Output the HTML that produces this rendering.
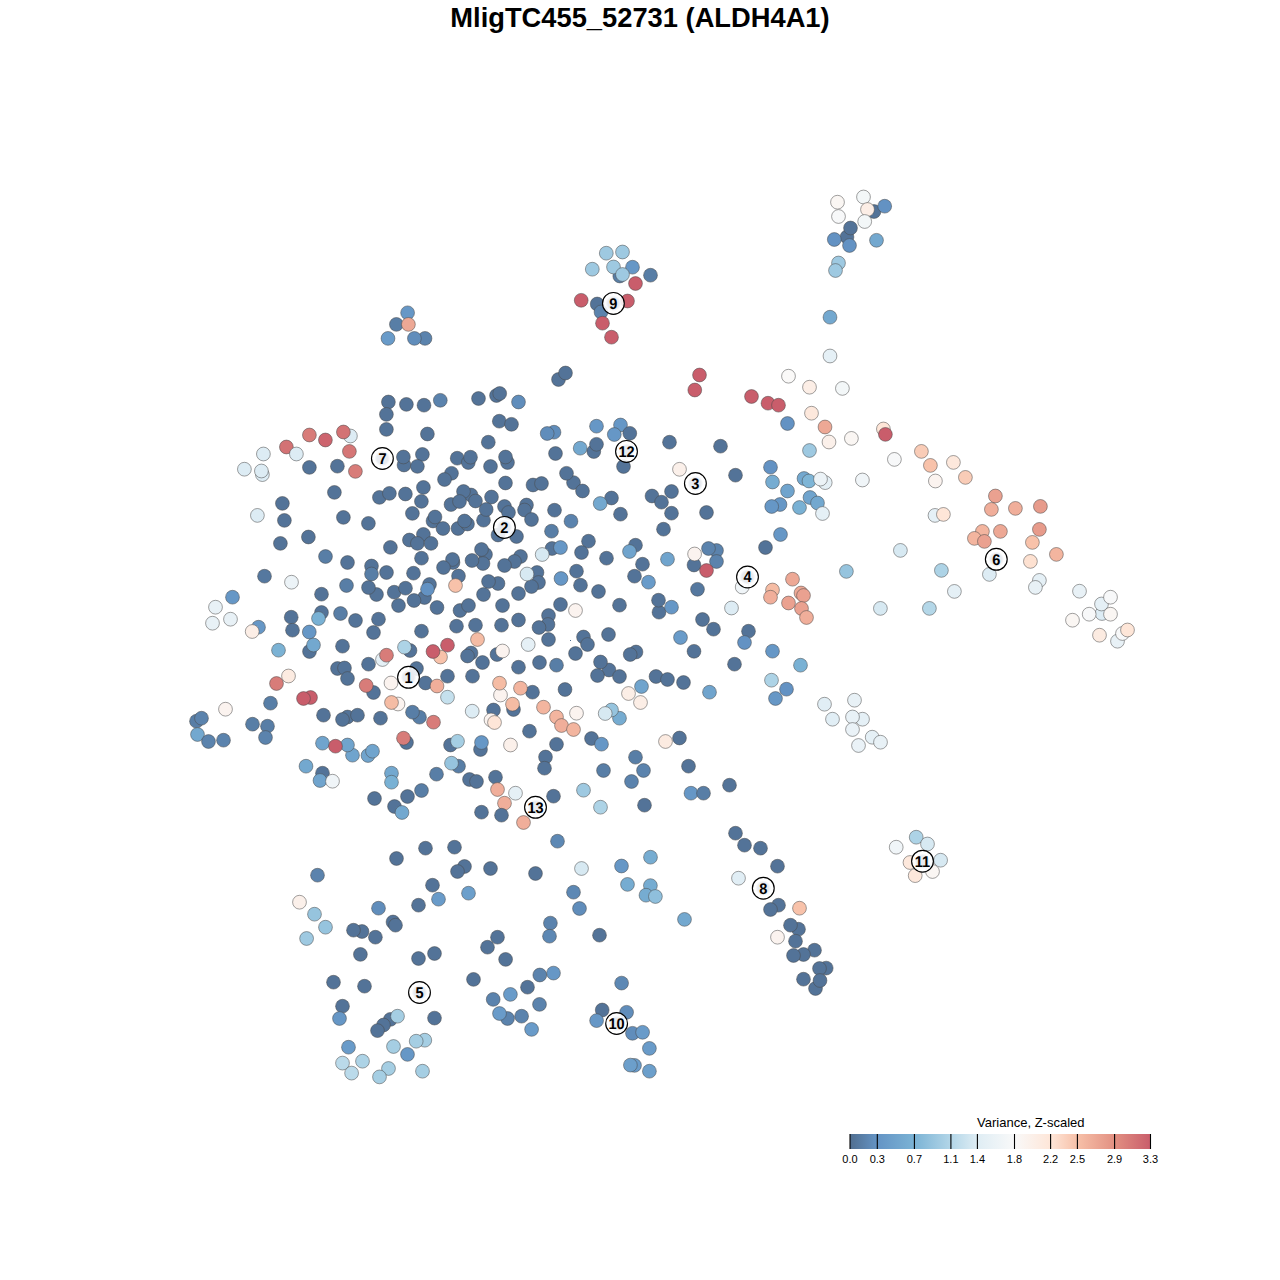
<!DOCTYPE html><html><head><meta charset="utf-8"><style>html,body{margin:0;padding:0;background:#fff}svg{display:block}text{font-family:"Liberation Sans",Arial,sans-serif}</style></head><body>
<svg width="1280" height="1280" viewBox="0 0 1280 1280">
<rect width="1280" height="1280" fill="#fff"/>
<text x="640" y="26.5" text-anchor="middle" font-size="27.3" font-weight="bold" fill="#000">MligTC455_52731 (ALDH4A1)</text>
<g stroke="#4a4a4a" stroke-opacity="0.65" stroke-width="0.8">
<circle cx="407.6" cy="312.8" r="6.9" fill="#6697c6"/>
<circle cx="396.4" cy="324.4" r="6.9" fill="#587ea6"/>
<circle cx="408.4" cy="324.4" r="6.9" fill="#eda895"/>
<circle cx="388.0" cy="338.4" r="6.9" fill="#699bc9"/>
<circle cx="425.0" cy="338.4" r="6.9" fill="#5b83ad"/>
<circle cx="414.4" cy="338.4" r="6.9" fill="#608dbb"/>
<circle cx="388.4" cy="402.0" r="6.9" fill="#537398"/>
<circle cx="406.4" cy="404.4" r="6.9" fill="#537398"/>
<circle cx="424.0" cy="405.2" r="6.9" fill="#537398"/>
<circle cx="386.4" cy="414.4" r="6.9" fill="#537398"/>
<circle cx="386.4" cy="429.4" r="6.9" fill="#537398"/>
<circle cx="427.4" cy="434.0" r="6.9" fill="#537398"/>
<circle cx="309.4" cy="435.0" r="6.9" fill="#d87c79"/>
<circle cx="350.4" cy="436.0" r="6.9" fill="#ddecf4"/>
<circle cx="325.4" cy="440.0" r="6.9" fill="#cd646e"/>
<circle cx="343.4" cy="432.0" r="6.9" fill="#d37274"/>
<circle cx="286.4" cy="447.0" r="6.9" fill="#d37274"/>
<circle cx="263.4" cy="454.0" r="6.9" fill="#ddecf4"/>
<circle cx="296.4" cy="454.0" r="6.9" fill="#ddecf4"/>
<circle cx="349.4" cy="451.4" r="6.9" fill="#d57676"/>
<circle cx="244.4" cy="469.2" r="6.9" fill="#ddecf4"/>
<circle cx="262.4" cy="474.6" r="6.9" fill="#ddecf4"/>
<circle cx="261.4" cy="471.0" r="6.9" fill="#ddecf4"/>
<circle cx="309.4" cy="467.4" r="6.9" fill="#537398"/>
<circle cx="337.4" cy="466.2" r="6.9" fill="#537398"/>
<circle cx="355.4" cy="471.4" r="6.9" fill="#d87c79"/>
<circle cx="404.0" cy="465.0" r="6.9" fill="#537398"/>
<circle cx="403.4" cy="457.0" r="6.9" fill="#537398"/>
<circle cx="422.4" cy="454.4" r="6.9" fill="#537398"/>
<circle cx="417.4" cy="466.4" r="6.9" fill="#537398"/>
<circle cx="334.4" cy="492.4" r="6.9" fill="#537398"/>
<circle cx="379.4" cy="497.4" r="6.9" fill="#537398"/>
<circle cx="389.4" cy="493.4" r="6.9" fill="#537398"/>
<circle cx="405.4" cy="494.0" r="6.9" fill="#537398"/>
<circle cx="423.4" cy="487.4" r="6.9" fill="#537398"/>
<circle cx="421.4" cy="501.4" r="6.9" fill="#537398"/>
<circle cx="282.4" cy="503.4" r="6.9" fill="#537398"/>
<circle cx="257.4" cy="515.4" r="6.9" fill="#ddecf4"/>
<circle cx="284.4" cy="520.4" r="6.9" fill="#537398"/>
<circle cx="343.4" cy="517.4" r="6.9" fill="#537398"/>
<circle cx="368.4" cy="523.4" r="6.9" fill="#537398"/>
<circle cx="412.4" cy="513.4" r="6.9" fill="#537398"/>
<circle cx="433.0" cy="521.0" r="6.9" fill="#537398"/>
<circle cx="435.0" cy="517.0" r="6.9" fill="#537398"/>
<circle cx="308.4" cy="537.0" r="6.9" fill="#537398"/>
<circle cx="280.4" cy="543.4" r="6.9" fill="#537398"/>
<circle cx="409.4" cy="540.0" r="6.9" fill="#537398"/>
<circle cx="423.4" cy="534.4" r="6.9" fill="#537398"/>
<circle cx="417.4" cy="543.4" r="6.9" fill="#537398"/>
<circle cx="431.0" cy="543.4" r="6.9" fill="#537398"/>
<circle cx="390.4" cy="547.4" r="6.9" fill="#537398"/>
<circle cx="558.5" cy="379.5" r="6.9" fill="#537398"/>
<circle cx="565.5" cy="373.0" r="6.9" fill="#537398"/>
<circle cx="440.3" cy="400.3" r="6.9" fill="#5b83ad"/>
<circle cx="478.5" cy="398.5" r="6.9" fill="#537398"/>
<circle cx="496.5" cy="395.5" r="6.9" fill="#537398"/>
<circle cx="499.7" cy="393.5" r="6.9" fill="#537398"/>
<circle cx="518.5" cy="402.0" r="6.9" fill="#608dbb"/>
<circle cx="499.3" cy="421.2" r="6.9" fill="#537398"/>
<circle cx="511.5" cy="424.3" r="6.9" fill="#537398"/>
<circle cx="554.0" cy="432.2" r="6.9" fill="#608dbb"/>
<circle cx="547.2" cy="433.5" r="6.9" fill="#608dbb"/>
<circle cx="488.3" cy="442.2" r="6.9" fill="#537398"/>
<circle cx="555.5" cy="453.5" r="6.9" fill="#537398"/>
<circle cx="457.2" cy="458.2" r="6.9" fill="#537398"/>
<circle cx="468.3" cy="462.5" r="6.9" fill="#537398"/>
<circle cx="470.5" cy="457.2" r="6.9" fill="#537398"/>
<circle cx="507.5" cy="462.5" r="6.9" fill="#537398"/>
<circle cx="505.5" cy="457.0" r="6.9" fill="#537398"/>
<circle cx="490.5" cy="466.5" r="6.9" fill="#537398"/>
<circle cx="451.5" cy="473.3" r="6.9" fill="#537398"/>
<circle cx="444.5" cy="479.5" r="6.9" fill="#537398"/>
<circle cx="505.5" cy="483.0" r="6.9" fill="#537398"/>
<circle cx="533.0" cy="485.0" r="6.9" fill="#537398"/>
<circle cx="541.5" cy="483.5" r="6.9" fill="#537398"/>
<circle cx="694.8" cy="390.0" r="6.9" fill="#c95d6b"/>
<circle cx="596.5" cy="426.2" r="6.9" fill="#6697c6"/>
<circle cx="620.5" cy="425.0" r="6.9" fill="#6697c6"/>
<circle cx="614.3" cy="434.5" r="6.9" fill="#6697c6"/>
<circle cx="629.8" cy="433.3" r="6.9" fill="#537398"/>
<circle cx="580.2" cy="448.2" r="6.9" fill="#73a8cf"/>
<circle cx="593.8" cy="451.5" r="6.9" fill="#537398"/>
<circle cx="596.5" cy="444.3" r="6.9" fill="#537398"/>
<circle cx="669.5" cy="442.2" r="6.9" fill="#537398"/>
<circle cx="623.5" cy="466.5" r="6.9" fill="#537398"/>
<circle cx="679.5" cy="469.3" r="6.9" fill="#fbf0ea"/>
<circle cx="573.5" cy="482.6" r="6.9" fill="#537398"/>
<circle cx="566.5" cy="473.3" r="6.9" fill="#537398"/>
<circle cx="699.5" cy="375.0" r="6.9" fill="#c95d6b"/>
<circle cx="751.5" cy="396.5" r="6.9" fill="#c95d6b"/>
<circle cx="768.0" cy="403.2" r="6.9" fill="#c95d6b"/>
<circle cx="778.5" cy="405.2" r="6.9" fill="#c95d6b"/>
<circle cx="788.5" cy="376.2" r="6.9" fill="#faf9f8"/>
<circle cx="809.5" cy="387.2" r="6.9" fill="#fceee6"/>
<circle cx="811.5" cy="413.2" r="6.9" fill="#fde8dc"/>
<circle cx="787.5" cy="423.5" r="6.9" fill="#6392c3"/>
<circle cx="720.5" cy="446.2" r="6.9" fill="#537398"/>
<circle cx="809.5" cy="450.5" r="6.9" fill="#9ec9e1"/>
<circle cx="770.5" cy="467.2" r="6.9" fill="#6392c3"/>
<circle cx="735.5" cy="475.2" r="6.9" fill="#537398"/>
<circle cx="772.5" cy="482.0" r="6.9" fill="#76acd1"/>
<circle cx="804.0" cy="478.5" r="6.9" fill="#73a8cf"/>
<circle cx="809.0" cy="481.0" r="6.9" fill="#7eb5d6"/>
<circle cx="825.2" cy="482.6" r="6.9" fill="#e5f0f6"/>
<circle cx="820.5" cy="479.1" r="6.9" fill="#ecf3f7"/>
<circle cx="842.4" cy="388.4" r="6.9" fill="#f3f7f8"/>
<circle cx="825.0" cy="427.0" r="6.9" fill="#eda895"/>
<circle cx="829.0" cy="442.0" r="6.9" fill="#fbf0ea"/>
<circle cx="851.4" cy="438.4" r="6.9" fill="#faf6f3"/>
<circle cx="883.4" cy="429.0" r="6.9" fill="#fee6d8"/>
<circle cx="885.4" cy="434.4" r="6.9" fill="#c95d6b"/>
<circle cx="894.4" cy="459.4" r="6.9" fill="#f7f8f9"/>
<circle cx="921.4" cy="451.4" r="6.9" fill="#f9ccb7"/>
<circle cx="930.4" cy="465.4" r="6.9" fill="#f8c2aa"/>
<circle cx="953.4" cy="462.4" r="6.9" fill="#fde8dc"/>
<circle cx="965.4" cy="477.4" r="6.9" fill="#f9ccb7"/>
<circle cx="935.4" cy="481.0" r="6.9" fill="#fbf3ef"/>
<circle cx="862.4" cy="480.0" r="6.9" fill="#f0f5f8"/>
<circle cx="471.0" cy="495.0" r="6.9" fill="#537398"/>
<circle cx="463.5" cy="491.5" r="6.9" fill="#537398"/>
<circle cx="451.0" cy="504.5" r="6.9" fill="#537398"/>
<circle cx="459.5" cy="501.5" r="6.9" fill="#537398"/>
<circle cx="475.5" cy="501.0" r="6.9" fill="#537398"/>
<circle cx="491.5" cy="497.0" r="6.9" fill="#537398"/>
<circle cx="483.5" cy="520.2" r="6.9" fill="#537398"/>
<circle cx="486.2" cy="509.5" r="6.9" fill="#537398"/>
<circle cx="504.5" cy="506.5" r="6.9" fill="#537398"/>
<circle cx="508.5" cy="512.5" r="6.9" fill="#537398"/>
<circle cx="526.5" cy="505.0" r="6.9" fill="#537398"/>
<circle cx="524.5" cy="510.0" r="6.9" fill="#537398"/>
<circle cx="531.5" cy="519.5" r="6.9" fill="#537398"/>
<circle cx="554.5" cy="510.2" r="6.9" fill="#537398"/>
<circle cx="443.0" cy="528.5" r="6.9" fill="#537398"/>
<circle cx="458.0" cy="528.5" r="6.9" fill="#537398"/>
<circle cx="467.5" cy="524.0" r="6.9" fill="#537398"/>
<circle cx="464.5" cy="521.0" r="6.9" fill="#537398"/>
<circle cx="498.0" cy="535.0" r="6.9" fill="#537398"/>
<circle cx="516.5" cy="536.5" r="6.9" fill="#537398"/>
<circle cx="551.5" cy="531.2" r="6.9" fill="#587ea6"/>
<circle cx="552.0" cy="548.5" r="6.9" fill="#537398"/>
<circle cx="560.5" cy="547.5" r="6.9" fill="#6697c6"/>
<circle cx="542.2" cy="554.5" r="6.9" fill="#d7e9f2"/>
<circle cx="485.5" cy="554.5" r="6.9" fill="#537398"/>
<circle cx="481.5" cy="549.5" r="6.9" fill="#537398"/>
<circle cx="483.0" cy="563.5" r="6.9" fill="#537398"/>
<circle cx="472.0" cy="560.5" r="6.9" fill="#537398"/>
<circle cx="453.0" cy="562.5" r="6.9" fill="#537398"/>
<circle cx="452.5" cy="559.5" r="6.9" fill="#537398"/>
<circle cx="443.5" cy="567.5" r="6.9" fill="#537398"/>
<circle cx="520.5" cy="556.5" r="6.9" fill="#537398"/>
<circle cx="514.5" cy="561.5" r="6.9" fill="#537398"/>
<circle cx="504.5" cy="565.5" r="6.9" fill="#537398"/>
<circle cx="458.5" cy="576.0" r="6.9" fill="#537398"/>
<circle cx="455.5" cy="585.5" r="6.9" fill="#f8c2aa"/>
<circle cx="498.0" cy="583.5" r="6.9" fill="#537398"/>
<circle cx="488.5" cy="581.5" r="6.9" fill="#537398"/>
<circle cx="483.5" cy="594.5" r="6.9" fill="#537398"/>
<circle cx="537.0" cy="572.5" r="6.9" fill="#537398"/>
<circle cx="538.5" cy="582.5" r="6.9" fill="#537398"/>
<circle cx="531.5" cy="586.5" r="6.9" fill="#537398"/>
<circle cx="527.0" cy="574.0" r="6.9" fill="#d7e9f2"/>
<circle cx="518.5" cy="593.5" r="6.9" fill="#537398"/>
<circle cx="561.0" cy="578.5" r="6.9" fill="#6697c6"/>
<circle cx="560.5" cy="604.5" r="6.9" fill="#537398"/>
<circle cx="548.5" cy="615.5" r="6.9" fill="#537398"/>
<circle cx="502.5" cy="605.5" r="6.9" fill="#537398"/>
<circle cx="460.0" cy="610.5" r="6.9" fill="#537398"/>
<circle cx="468.5" cy="605.5" r="6.9" fill="#537398"/>
<circle cx="582.5" cy="491.0" r="6.9" fill="#537398"/>
<circle cx="611.5" cy="498.0" r="6.9" fill="#537398"/>
<circle cx="600.2" cy="503.5" r="6.9" fill="#73a8cf"/>
<circle cx="620.5" cy="514.2" r="6.9" fill="#537398"/>
<circle cx="652.0" cy="496.0" r="6.9" fill="#537398"/>
<circle cx="661.5" cy="502.2" r="6.9" fill="#537398"/>
<circle cx="671.5" cy="491.5" r="6.9" fill="#537398"/>
<circle cx="671.5" cy="513.2" r="6.9" fill="#537398"/>
<circle cx="663.5" cy="529.2" r="6.9" fill="#537398"/>
<circle cx="571.0" cy="521.2" r="6.9" fill="#5b83ad"/>
<circle cx="588.5" cy="541.2" r="6.9" fill="#537398"/>
<circle cx="581.5" cy="552.5" r="6.9" fill="#537398"/>
<circle cx="606.5" cy="558.2" r="6.9" fill="#537398"/>
<circle cx="635.5" cy="545.2" r="6.9" fill="#537398"/>
<circle cx="629.5" cy="551.5" r="6.9" fill="#70a4cd"/>
<circle cx="642.5" cy="564.2" r="6.9" fill="#537398"/>
<circle cx="667.5" cy="559.2" r="6.9" fill="#70a4cd"/>
<circle cx="694.0" cy="565.0" r="6.9" fill="#537398"/>
<circle cx="694.6" cy="554.0" r="6.9" fill="#fbf3ef"/>
<circle cx="576.5" cy="571.2" r="6.9" fill="#537398"/>
<circle cx="634.5" cy="576.2" r="6.9" fill="#537398"/>
<circle cx="648.5" cy="582.2" r="6.9" fill="#699bc9"/>
<circle cx="580.5" cy="585.2" r="6.9" fill="#537398"/>
<circle cx="598.5" cy="591.5" r="6.9" fill="#537398"/>
<circle cx="619.5" cy="605.2" r="6.9" fill="#537398"/>
<circle cx="659.0" cy="612.2" r="6.9" fill="#537398"/>
<circle cx="658.5" cy="600.2" r="6.9" fill="#537398"/>
<circle cx="671.5" cy="607.2" r="6.9" fill="#6697c6"/>
<circle cx="575.5" cy="610.5" r="6.9" fill="#fbf3ef"/>
<circle cx="787.5" cy="491.0" r="6.9" fill="#70a4cd"/>
<circle cx="810.0" cy="497.5" r="6.9" fill="#70a4cd"/>
<circle cx="817.5" cy="503.0" r="6.9" fill="#73a8cf"/>
<circle cx="822.5" cy="513.5" r="6.9" fill="#e5f0f6"/>
<circle cx="780.0" cy="504.5" r="6.9" fill="#6697c6"/>
<circle cx="771.7" cy="506.5" r="6.9" fill="#6697c6"/>
<circle cx="799.5" cy="507.5" r="6.9" fill="#79b1d4"/>
<circle cx="706.5" cy="512.5" r="6.9" fill="#537398"/>
<circle cx="780.5" cy="534.5" r="6.9" fill="#6697c6"/>
<circle cx="765.5" cy="547.5" r="6.9" fill="#537398"/>
<circle cx="716.5" cy="550.5" r="6.9" fill="#5b83ad"/>
<circle cx="708.5" cy="548.5" r="6.9" fill="#5b83ad"/>
<circle cx="716.5" cy="561.5" r="6.9" fill="#5b83ad"/>
<circle cx="706.5" cy="570.5" r="6.9" fill="#c95d6b"/>
<circle cx="742.2" cy="587.0" r="6.9" fill="#f0f5f8"/>
<circle cx="697.5" cy="589.3" r="6.9" fill="#55789f"/>
<circle cx="792.5" cy="579.2" r="6.9" fill="#eda895"/>
<circle cx="772.5" cy="590.0" r="6.9" fill="#f5bca4"/>
<circle cx="770.5" cy="597.2" r="6.9" fill="#f0ae9a"/>
<circle cx="801.0" cy="593.0" r="6.9" fill="#eda895"/>
<circle cx="803.5" cy="595.5" r="6.9" fill="#eaa190"/>
<circle cx="788.5" cy="603.0" r="6.9" fill="#eaa190"/>
<circle cx="801.5" cy="608.5" r="6.9" fill="#eaa190"/>
<circle cx="731.5" cy="608.0" r="6.9" fill="#ddecf4"/>
<circle cx="995.4" cy="496.0" r="6.9" fill="#eaa190"/>
<circle cx="991.4" cy="509.4" r="6.9" fill="#f0ae9a"/>
<circle cx="1015.4" cy="508.4" r="6.9" fill="#f0ae9a"/>
<circle cx="1040.4" cy="506.4" r="6.9" fill="#e79b8b"/>
<circle cx="935.0" cy="515.4" r="6.9" fill="#e5f0f6"/>
<circle cx="943.4" cy="514.4" r="6.9" fill="#fee6d8"/>
<circle cx="982.4" cy="531.4" r="6.9" fill="#f3b59f"/>
<circle cx="974.4" cy="538.4" r="6.9" fill="#f3b59f"/>
<circle cx="984.4" cy="541.4" r="6.9" fill="#eaa190"/>
<circle cx="1000.4" cy="531.4" r="6.9" fill="#eda895"/>
<circle cx="1039.4" cy="529.4" r="6.9" fill="#e79b8b"/>
<circle cx="1032.4" cy="542.4" r="6.9" fill="#f8c2aa"/>
<circle cx="1056.4" cy="554.4" r="6.9" fill="#f3b59f"/>
<circle cx="1030.4" cy="561.4" r="6.9" fill="#fde1d1"/>
<circle cx="989.4" cy="574.4" r="6.9" fill="#ddecf4"/>
<circle cx="1039.4" cy="580.4" r="6.9" fill="#e5f0f6"/>
<circle cx="1035.4" cy="587.4" r="6.9" fill="#e8f1f6"/>
<circle cx="900.4" cy="550.4" r="6.9" fill="#d7e9f2"/>
<circle cx="846.4" cy="571.4" r="6.9" fill="#96c4de"/>
<circle cx="941.4" cy="570.4" r="6.9" fill="#add3e6"/>
<circle cx="954.4" cy="591.4" r="6.9" fill="#e5f0f6"/>
<circle cx="880.4" cy="608.4" r="6.9" fill="#d7e9f2"/>
<circle cx="929.4" cy="608.4" r="6.9" fill="#b4d7e8"/>
<circle cx="1079.5" cy="591.2" r="6.9" fill="#e8f1f6"/>
<circle cx="1102.0" cy="613.5" r="6.9" fill="#ddecf4"/>
<circle cx="1101.5" cy="604.0" r="6.9" fill="#e5f0f6"/>
<circle cx="1110.5" cy="597.2" r="6.9" fill="#f7f8f9"/>
<circle cx="1089.2" cy="614.2" r="6.9" fill="#f7f8f9"/>
<circle cx="1110.5" cy="614.2" r="6.9" fill="#faf6f3"/>
<circle cx="1072.5" cy="620.2" r="6.9" fill="#faf6f3"/>
<circle cx="1099.5" cy="635.2" r="6.9" fill="#fcebe1"/>
<circle cx="1117.5" cy="641.2" r="6.9" fill="#e8f1f6"/>
<circle cx="1122.5" cy="633.5" r="6.9" fill="#f7f8f9"/>
<circle cx="1127.5" cy="630.0" r="6.9" fill="#fee6d8"/>
<circle cx="606.3" cy="253.2" r="6.9" fill="#9ec9e1"/>
<circle cx="622.5" cy="252.0" r="6.9" fill="#9ec9e1"/>
<circle cx="592.3" cy="269.2" r="6.9" fill="#9ec9e1"/>
<circle cx="619.8" cy="276.0" r="6.9" fill="#587ea6"/>
<circle cx="613.5" cy="267.0" r="6.9" fill="#9ec9e1"/>
<circle cx="632.5" cy="267.2" r="6.9" fill="#6697c6"/>
<circle cx="622.5" cy="274.5" r="6.9" fill="#9ec9e1"/>
<circle cx="650.5" cy="275.2" r="6.9" fill="#587ea6"/>
<circle cx="635.5" cy="283.5" r="6.9" fill="#c95d6b"/>
<circle cx="581.2" cy="300.3" r="6.9" fill="#c95d6b"/>
<circle cx="597.2" cy="304.0" r="6.9" fill="#537398"/>
<circle cx="601.0" cy="312.0" r="6.9" fill="#5b83ad"/>
<circle cx="627.5" cy="301.0" r="6.9" fill="#c95d6b"/>
<circle cx="602.5" cy="323.2" r="6.9" fill="#c95d6b"/>
<circle cx="611.5" cy="337.2" r="6.9" fill="#c95d6b"/>
<circle cx="456.5" cy="626.2" r="6.9" fill="#537398"/>
<circle cx="475.5" cy="625.2" r="6.9" fill="#537398"/>
<circle cx="501.5" cy="625.2" r="6.9" fill="#537398"/>
<circle cx="518.5" cy="620.0" r="6.9" fill="#537398"/>
<circle cx="548.0" cy="624.5" r="6.9" fill="#537398"/>
<circle cx="539.0" cy="627.5" r="6.9" fill="#537398"/>
<circle cx="548.5" cy="639.5" r="6.9" fill="#537398"/>
<circle cx="477.5" cy="639.5" r="6.9" fill="#f5bca4"/>
<circle cx="447.5" cy="645.2" r="6.9" fill="#c95d6b"/>
<circle cx="471.0" cy="653.0" r="6.9" fill="#537398"/>
<circle cx="467.5" cy="656.0" r="6.9" fill="#537398"/>
<circle cx="482.5" cy="662.5" r="6.9" fill="#537398"/>
<circle cx="497.0" cy="654.5" r="6.9" fill="#537398"/>
<circle cx="502.5" cy="651.0" r="6.9" fill="#fbf3ef"/>
<circle cx="528.2" cy="644.5" r="6.9" fill="#e5f0f6"/>
<circle cx="518.5" cy="667.2" r="6.9" fill="#537398"/>
<circle cx="539.5" cy="662.5" r="6.9" fill="#537398"/>
<circle cx="556.5" cy="665.2" r="6.9" fill="#587ea6"/>
<circle cx="447.5" cy="676.2" r="6.9" fill="#537398"/>
<circle cx="472.5" cy="676.2" r="6.9" fill="#537398"/>
<circle cx="447.5" cy="697.2" r="6.9" fill="#c5e0ed"/>
<circle cx="500.5" cy="695.0" r="6.9" fill="#fbf3ef"/>
<circle cx="499.5" cy="683.2" r="6.9" fill="#f5bca4"/>
<circle cx="532.5" cy="692.2" r="6.9" fill="#537398"/>
<circle cx="520.5" cy="688.2" r="6.9" fill="#f3b59f"/>
<circle cx="565.0" cy="689.5" r="6.9" fill="#537398"/>
<circle cx="513.5" cy="709.5" r="6.9" fill="#537398"/>
<circle cx="512.5" cy="704.2" r="6.9" fill="#f5bca4"/>
<circle cx="493.5" cy="710.0" r="6.9" fill="#537398"/>
<circle cx="472.2" cy="711.2" r="6.9" fill="#ddecf4"/>
<circle cx="491.0" cy="720.0" r="6.9" fill="#fbf3ef"/>
<circle cx="494.5" cy="722.5" r="6.9" fill="#fee6d8"/>
<circle cx="543.5" cy="707.2" r="6.9" fill="#f3b59f"/>
<circle cx="556.5" cy="717.0" r="6.9" fill="#f3b59f"/>
<circle cx="561.5" cy="725.5" r="6.9" fill="#f0ae9a"/>
<circle cx="529.5" cy="731.2" r="6.9" fill="#537398"/>
<circle cx="450.5" cy="745.0" r="6.9" fill="#537398"/>
<circle cx="457.5" cy="741.3" r="6.9" fill="#a5cee3"/>
<circle cx="480.5" cy="749.5" r="6.9" fill="#537398"/>
<circle cx="481.5" cy="742.5" r="6.9" fill="#6697c6"/>
<circle cx="510.5" cy="745.0" r="6.9" fill="#fbf0ea"/>
<circle cx="556.5" cy="744.3" r="6.9" fill="#537398"/>
<circle cx="583.5" cy="637.0" r="6.9" fill="#537398"/>
<circle cx="587.5" cy="644.5" r="6.9" fill="#537398"/>
<circle cx="575.5" cy="653.5" r="6.9" fill="#537398"/>
<circle cx="608.5" cy="634.5" r="6.9" fill="#537398"/>
<circle cx="636.0" cy="652.0" r="6.9" fill="#537398"/>
<circle cx="630.2" cy="654.5" r="6.9" fill="#537398"/>
<circle cx="680.5" cy="637.5" r="6.9" fill="#699bc9"/>
<circle cx="694.0" cy="651.3" r="6.9" fill="#537398"/>
<circle cx="609.0" cy="670.0" r="6.9" fill="#537398"/>
<circle cx="600.5" cy="662.0" r="6.9" fill="#537398"/>
<circle cx="597.5" cy="675.5" r="6.9" fill="#537398"/>
<circle cx="619.5" cy="676.5" r="6.9" fill="#537398"/>
<circle cx="656.0" cy="676.5" r="6.9" fill="#537398"/>
<circle cx="667.5" cy="679.5" r="6.9" fill="#537398"/>
<circle cx="683.5" cy="682.5" r="6.9" fill="#537398"/>
<circle cx="641.5" cy="686.5" r="6.9" fill="#70a4cd"/>
<circle cx="628.5" cy="693.5" r="6.9" fill="#fceee6"/>
<circle cx="640.5" cy="702.5" r="6.9" fill="#fceee6"/>
<circle cx="576.5" cy="713.2" r="6.9" fill="#fbf3ef"/>
<circle cx="619.5" cy="718.2" r="6.9" fill="#76acd1"/>
<circle cx="611.5" cy="710.0" r="6.9" fill="#96c4de"/>
<circle cx="605.2" cy="713.5" r="6.9" fill="#d7e9f2"/>
<circle cx="573.5" cy="729.5" r="6.9" fill="#f3b59f"/>
<circle cx="591.5" cy="738.5" r="6.9" fill="#537398"/>
<circle cx="601.5" cy="744.2" r="6.9" fill="#6697c6"/>
<circle cx="665.5" cy="741.5" r="6.9" fill="#fcebe1"/>
<circle cx="679.5" cy="738.0" r="6.9" fill="#537398"/>
<circle cx="702.5" cy="619.5" r="6.9" fill="#537398"/>
<circle cx="713.5" cy="629.2" r="6.9" fill="#537398"/>
<circle cx="748.5" cy="631.2" r="6.9" fill="#537398"/>
<circle cx="744.5" cy="642.5" r="6.9" fill="#6392c3"/>
<circle cx="806.5" cy="617.5" r="6.9" fill="#f0ae9a"/>
<circle cx="772.5" cy="651.2" r="6.9" fill="#6697c6"/>
<circle cx="734.5" cy="664.2" r="6.9" fill="#537398"/>
<circle cx="800.5" cy="665.2" r="6.9" fill="#79b1d4"/>
<circle cx="771.5" cy="680.2" r="6.9" fill="#add3e6"/>
<circle cx="786.5" cy="689.2" r="6.9" fill="#6392c3"/>
<circle cx="775.5" cy="698.5" r="6.9" fill="#6697c6"/>
<circle cx="709.5" cy="692.2" r="6.9" fill="#70a4cd"/>
<circle cx="824.5" cy="704.2" r="6.9" fill="#e1eef5"/>
<circle cx="854.5" cy="700.2" r="6.9" fill="#e8f1f6"/>
<circle cx="832.5" cy="719.2" r="6.9" fill="#e1eef5"/>
<circle cx="862.5" cy="719.2" r="6.9" fill="#e5f0f6"/>
<circle cx="852.5" cy="717.0" r="6.9" fill="#e8f1f6"/>
<circle cx="852.5" cy="729.5" r="6.9" fill="#eaf2f7"/>
<circle cx="858.5" cy="745.5" r="6.9" fill="#eaf2f7"/>
<circle cx="872.2" cy="737.2" r="6.9" fill="#e5f0f6"/>
<circle cx="880.5" cy="742.2" r="6.9" fill="#e8f1f6"/>
<circle cx="264.5" cy="576.2" r="6.9" fill="#55789f"/>
<circle cx="291.5" cy="582.2" r="6.9" fill="#ecf3f7"/>
<circle cx="232.5" cy="597.2" r="6.9" fill="#6697c6"/>
<circle cx="215.5" cy="607.2" r="6.9" fill="#e8f1f6"/>
<circle cx="230.5" cy="619.2" r="6.9" fill="#e8f1f6"/>
<circle cx="212.5" cy="623.2" r="6.9" fill="#e8f1f6"/>
<circle cx="258.5" cy="627.2" r="6.9" fill="#6697c6"/>
<circle cx="252.2" cy="631.5" r="6.9" fill="#fceee6"/>
<circle cx="291.2" cy="617.2" r="6.9" fill="#537398"/>
<circle cx="292.5" cy="630.2" r="6.9" fill="#537398"/>
<circle cx="309.3" cy="632.0" r="6.9" fill="#6697c6"/>
<circle cx="309.5" cy="651.5" r="6.9" fill="#537398"/>
<circle cx="313.5" cy="645.0" r="6.9" fill="#73a8cf"/>
<circle cx="278.5" cy="650.2" r="6.9" fill="#7bb2d4"/>
<circle cx="288.5" cy="676.0" r="6.9" fill="#fcebe1"/>
<circle cx="325.5" cy="556.5" r="6.9" fill="#587ea6"/>
<circle cx="347.5" cy="562.5" r="6.9" fill="#537398"/>
<circle cx="371.5" cy="566.0" r="6.9" fill="#537398"/>
<circle cx="371.5" cy="574.0" r="6.9" fill="#587ea6"/>
<circle cx="386.5" cy="572.5" r="6.9" fill="#537398"/>
<circle cx="421.5" cy="558.2" r="6.9" fill="#537398"/>
<circle cx="413.5" cy="573.2" r="6.9" fill="#537398"/>
<circle cx="346.5" cy="585.5" r="6.9" fill="#587ea6"/>
<circle cx="321.5" cy="594.2" r="6.9" fill="#537398"/>
<circle cx="376.5" cy="594.5" r="6.9" fill="#537398"/>
<circle cx="368.5" cy="587.5" r="6.9" fill="#537398"/>
<circle cx="394.2" cy="592.2" r="6.9" fill="#537398"/>
<circle cx="405.5" cy="588.2" r="6.9" fill="#537398"/>
<circle cx="429.5" cy="584.5" r="6.9" fill="#537398"/>
<circle cx="424.5" cy="597.5" r="6.9" fill="#537398"/>
<circle cx="427.5" cy="589.2" r="6.9" fill="#6392c3"/>
<circle cx="414.0" cy="600.5" r="6.9" fill="#537398"/>
<circle cx="398.5" cy="605.5" r="6.9" fill="#537398"/>
<circle cx="437.0" cy="607.5" r="6.9" fill="#537398"/>
<circle cx="321.5" cy="612.5" r="6.9" fill="#537398"/>
<circle cx="318.5" cy="618.5" r="6.9" fill="#79b1d4"/>
<circle cx="340.5" cy="613.5" r="6.9" fill="#587ea6"/>
<circle cx="355.5" cy="620.5" r="6.9" fill="#537398"/>
<circle cx="378.5" cy="619.2" r="6.9" fill="#537398"/>
<circle cx="373.5" cy="632.5" r="6.9" fill="#537398"/>
<circle cx="421.5" cy="631.2" r="6.9" fill="#537398"/>
<circle cx="342.5" cy="646.2" r="6.9" fill="#537398"/>
<circle cx="410.0" cy="650.5" r="6.9" fill="#537398"/>
<circle cx="404.5" cy="647.2" r="6.9" fill="#add3e6"/>
<circle cx="440.5" cy="657.0" r="6.9" fill="#f8c2aa"/>
<circle cx="433.0" cy="651.5" r="6.9" fill="#c95d6b"/>
<circle cx="382.5" cy="659.5" r="6.9" fill="#e5f0f6"/>
<circle cx="386.5" cy="655.2" r="6.9" fill="#d87c79"/>
<circle cx="368.5" cy="664.2" r="6.9" fill="#537398"/>
<circle cx="337.5" cy="668.5" r="6.9" fill="#537398"/>
<circle cx="344.5" cy="668.0" r="6.9" fill="#537398"/>
<circle cx="347.5" cy="678.5" r="6.9" fill="#537398"/>
<circle cx="416.5" cy="668.5" r="6.9" fill="#537398"/>
<circle cx="276.5" cy="683.5" r="6.9" fill="#d87c79"/>
<circle cx="310.5" cy="697.5" r="6.9" fill="#c95d6b"/>
<circle cx="303.5" cy="698.5" r="6.9" fill="#c95d6b"/>
<circle cx="270.5" cy="703.2" r="6.9" fill="#587ea6"/>
<circle cx="225.5" cy="709.2" r="6.9" fill="#fbf3ef"/>
<circle cx="196.5" cy="721.2" r="6.9" fill="#587ea6"/>
<circle cx="201.5" cy="718.2" r="6.9" fill="#5b83ad"/>
<circle cx="197.5" cy="734.5" r="6.9" fill="#73a8cf"/>
<circle cx="208.5" cy="741.5" r="6.9" fill="#5b83ad"/>
<circle cx="223.5" cy="740.2" r="6.9" fill="#5b83ad"/>
<circle cx="252.5" cy="724.2" r="6.9" fill="#587ea6"/>
<circle cx="267.5" cy="726.2" r="6.9" fill="#587ea6"/>
<circle cx="265.5" cy="737.5" r="6.9" fill="#5b83ad"/>
<circle cx="306.0" cy="766.2" r="6.9" fill="#73a8cf"/>
<circle cx="373.5" cy="692.5" r="6.9" fill="#537398"/>
<circle cx="366.2" cy="685.5" r="6.9" fill="#d87c79"/>
<circle cx="391.0" cy="683.0" r="6.9" fill="#fbf3ef"/>
<circle cx="425.5" cy="683.0" r="6.9" fill="#537398"/>
<circle cx="437.0" cy="686.0" r="6.9" fill="#f0ae9a"/>
<circle cx="398.0" cy="704.0" r="6.9" fill="#fbf3ef"/>
<circle cx="391.5" cy="702.5" r="6.9" fill="#f5bca4"/>
<circle cx="323.5" cy="715.2" r="6.9" fill="#537398"/>
<circle cx="347.5" cy="717.0" r="6.9" fill="#537398"/>
<circle cx="342.5" cy="719.5" r="6.9" fill="#537398"/>
<circle cx="357.5" cy="715.2" r="6.9" fill="#537398"/>
<circle cx="380.5" cy="718.2" r="6.9" fill="#537398"/>
<circle cx="419.5" cy="717.2" r="6.9" fill="#587ea6"/>
<circle cx="412.5" cy="712.2" r="6.9" fill="#587ea6"/>
<circle cx="433.5" cy="722.2" r="6.9" fill="#d87c79"/>
<circle cx="406.5" cy="742.5" r="6.9" fill="#537398"/>
<circle cx="403.5" cy="738.2" r="6.9" fill="#d87c79"/>
<circle cx="322.5" cy="743.2" r="6.9" fill="#70a4cd"/>
<circle cx="352.5" cy="755.2" r="6.9" fill="#70a4cd"/>
<circle cx="347.5" cy="745.0" r="6.9" fill="#70a4cd"/>
<circle cx="335.5" cy="746.2" r="6.9" fill="#c95d6b"/>
<circle cx="368.0" cy="755.5" r="6.9" fill="#70a4cd"/>
<circle cx="372.5" cy="751.2" r="6.9" fill="#70a4cd"/>
<circle cx="322.5" cy="773.2" r="6.9" fill="#537398"/>
<circle cx="320.0" cy="780.5" r="6.9" fill="#70a4cd"/>
<circle cx="332.5" cy="781.2" r="6.9" fill="#f0f5f8"/>
<circle cx="391.5" cy="773.2" r="6.9" fill="#73a8cf"/>
<circle cx="391.5" cy="782.2" r="6.9" fill="#79b1d4"/>
<circle cx="436.5" cy="774.2" r="6.9" fill="#587ea6"/>
<circle cx="374.5" cy="798.5" r="6.9" fill="#537398"/>
<circle cx="407.5" cy="796.5" r="6.9" fill="#537398"/>
<circle cx="421.5" cy="790.5" r="6.9" fill="#587ea6"/>
<circle cx="394.5" cy="806.5" r="6.9" fill="#537398"/>
<circle cx="545.5" cy="757.0" r="6.9" fill="#537398"/>
<circle cx="544.5" cy="768.2" r="6.9" fill="#537398"/>
<circle cx="458.5" cy="766.2" r="6.9" fill="#587ea6"/>
<circle cx="451.5" cy="763.2" r="6.9" fill="#96c4de"/>
<circle cx="469.5" cy="779.5" r="6.9" fill="#537398"/>
<circle cx="476.5" cy="781.5" r="6.9" fill="#537398"/>
<circle cx="495.5" cy="777.2" r="6.9" fill="#537398"/>
<circle cx="497.5" cy="789.5" r="6.9" fill="#f0ae9a"/>
<circle cx="515.5" cy="793.2" r="6.9" fill="#e5f0f6"/>
<circle cx="504.5" cy="803.2" r="6.9" fill="#f0ae9a"/>
<circle cx="501.5" cy="815.2" r="6.9" fill="#537398"/>
<circle cx="481.5" cy="812.2" r="6.9" fill="#537398"/>
<circle cx="523.5" cy="822.5" r="6.9" fill="#f0ae9a"/>
<circle cx="553.5" cy="796.2" r="6.9" fill="#537398"/>
<circle cx="557.5" cy="841.2" r="6.9" fill="#5d88b4"/>
<circle cx="454.5" cy="847.2" r="6.9" fill="#537398"/>
<circle cx="464.5" cy="866.5" r="6.9" fill="#537398"/>
<circle cx="457.5" cy="871.5" r="6.9" fill="#537398"/>
<circle cx="490.5" cy="868.5" r="6.9" fill="#537398"/>
<circle cx="635.5" cy="757.2" r="6.9" fill="#587ea6"/>
<circle cx="603.5" cy="770.5" r="6.9" fill="#587ea6"/>
<circle cx="643.5" cy="770.5" r="6.9" fill="#5b83ad"/>
<circle cx="631.5" cy="781.5" r="6.9" fill="#5b83ad"/>
<circle cx="688.5" cy="766.2" r="6.9" fill="#537398"/>
<circle cx="691.0" cy="793.2" r="6.9" fill="#6697c6"/>
<circle cx="583.5" cy="790.2" r="6.9" fill="#9ec9e1"/>
<circle cx="600.5" cy="807.2" r="6.9" fill="#add3e6"/>
<circle cx="644.5" cy="805.2" r="6.9" fill="#537398"/>
<circle cx="650.5" cy="857.2" r="6.9" fill="#76acd1"/>
<circle cx="621.5" cy="866.0" r="6.9" fill="#6697c6"/>
<circle cx="581.5" cy="868.5" r="6.9" fill="#d7e9f2"/>
<circle cx="703.5" cy="793.2" r="6.9" fill="#587ea6"/>
<circle cx="729.5" cy="785.2" r="6.9" fill="#537398"/>
<circle cx="735.5" cy="833.2" r="6.9" fill="#537398"/>
<circle cx="744.5" cy="845.2" r="6.9" fill="#537398"/>
<circle cx="760.5" cy="848.2" r="6.9" fill="#537398"/>
<circle cx="777.5" cy="866.2" r="6.9" fill="#537398"/>
<circle cx="738.5" cy="878.2" r="6.9" fill="#e1eef5"/>
<circle cx="778.5" cy="905.2" r="6.9" fill="#537398"/>
<circle cx="770.5" cy="909.5" r="6.9" fill="#537398"/>
<circle cx="799.5" cy="908.2" r="6.9" fill="#f8c2aa"/>
<circle cx="798.5" cy="929.2" r="6.9" fill="#537398"/>
<circle cx="790.5" cy="925.2" r="6.9" fill="#537398"/>
<circle cx="795.5" cy="941.2" r="6.9" fill="#537398"/>
<circle cx="777.5" cy="937.2" r="6.9" fill="#fbf3ef"/>
<circle cx="814.5" cy="950.2" r="6.9" fill="#537398"/>
<circle cx="803.5" cy="954.5" r="6.9" fill="#537398"/>
<circle cx="793.5" cy="955.5" r="6.9" fill="#537398"/>
<circle cx="826.2" cy="968.1" r="6.9" fill="#537398"/>
<circle cx="819.5" cy="968.5" r="6.9" fill="#537398"/>
<circle cx="815.5" cy="988.5" r="6.9" fill="#537398"/>
<circle cx="820.0" cy="980.5" r="6.9" fill="#537398"/>
<circle cx="803.5" cy="979.2" r="6.9" fill="#537398"/>
<circle cx="916.2" cy="837.2" r="6.9" fill="#add3e6"/>
<circle cx="927.5" cy="844.0" r="6.9" fill="#d7e9f2"/>
<circle cx="896.2" cy="847.2" r="6.9" fill="#f0f5f8"/>
<circle cx="910.0" cy="862.5" r="6.9" fill="#fde8dc"/>
<circle cx="940.6" cy="860.2" r="6.9" fill="#d7e9f2"/>
<circle cx="932.5" cy="871.5" r="6.9" fill="#faf6f3"/>
<circle cx="915.2" cy="875.6" r="6.9" fill="#fde8dc"/>
<circle cx="402.0" cy="812.5" r="6.9" fill="#73a8cf"/>
<circle cx="396.5" cy="858.5" r="6.9" fill="#537398"/>
<circle cx="317.5" cy="875.2" r="6.9" fill="#5b83ad"/>
<circle cx="299.5" cy="902.2" r="6.9" fill="#fbf0ea"/>
<circle cx="314.5" cy="914.2" r="6.9" fill="#96c4de"/>
<circle cx="325.5" cy="927.2" r="6.9" fill="#96c4de"/>
<circle cx="378.5" cy="908.2" r="6.9" fill="#608dbb"/>
<circle cx="393.0" cy="922.0" r="6.9" fill="#537398"/>
<circle cx="395.5" cy="925.2" r="6.9" fill="#537398"/>
<circle cx="362.0" cy="931.5" r="6.9" fill="#537398"/>
<circle cx="353.5" cy="930.2" r="6.9" fill="#537398"/>
<circle cx="375.4" cy="937.2" r="6.9" fill="#537398"/>
<circle cx="425.5" cy="848.2" r="6.9" fill="#537398"/>
<circle cx="535.5" cy="873.5" r="6.9" fill="#537398"/>
<circle cx="432.5" cy="885.2" r="6.9" fill="#537398"/>
<circle cx="438.5" cy="899.2" r="6.9" fill="#699bc9"/>
<circle cx="418.5" cy="905.2" r="6.9" fill="#537398"/>
<circle cx="468.5" cy="893.2" r="6.9" fill="#6c9fcb"/>
<circle cx="573.5" cy="892.2" r="6.9" fill="#5d88b4"/>
<circle cx="579.5" cy="908.5" r="6.9" fill="#608dbb"/>
<circle cx="627.5" cy="884.4" r="6.9" fill="#76acd1"/>
<circle cx="650.4" cy="885.6" r="6.9" fill="#76acd1"/>
<circle cx="646.0" cy="895.2" r="6.9" fill="#76acd1"/>
<circle cx="655.4" cy="896.5" r="6.9" fill="#8fbfdc"/>
<circle cx="684.5" cy="919.4" r="6.9" fill="#73a8cf"/>
<circle cx="550.4" cy="923.1" r="6.9" fill="#5b83ad"/>
<circle cx="549.5" cy="936.2" r="6.9" fill="#5d88b4"/>
<circle cx="599.5" cy="935.2" r="6.9" fill="#537398"/>
<circle cx="539.8" cy="975.0" r="6.9" fill="#5b83ad"/>
<circle cx="553.5" cy="973.1" r="6.9" fill="#6697c6"/>
<circle cx="621.6" cy="983.1" r="6.9" fill="#5d88b4"/>
<circle cx="306.6" cy="938.5" r="6.9" fill="#9ec9e1"/>
<circle cx="360.4" cy="954.4" r="6.9" fill="#537398"/>
<circle cx="418.5" cy="958.5" r="6.9" fill="#537398"/>
<circle cx="434.5" cy="953.5" r="6.9" fill="#537398"/>
<circle cx="333.5" cy="982.2" r="6.9" fill="#537398"/>
<circle cx="364.5" cy="986.2" r="6.9" fill="#537398"/>
<circle cx="342.5" cy="1006.2" r="6.9" fill="#537398"/>
<circle cx="339.5" cy="1018.5" r="6.9" fill="#6697c6"/>
<circle cx="390.4" cy="1019.4" r="6.9" fill="#537398"/>
<circle cx="383.5" cy="1025.0" r="6.9" fill="#537398"/>
<circle cx="377.5" cy="1030.6" r="6.9" fill="#537398"/>
<circle cx="397.5" cy="1016.2" r="6.9" fill="#a5cee3"/>
<circle cx="434.5" cy="1018.1" r="6.9" fill="#537398"/>
<circle cx="348.5" cy="1047.2" r="6.9" fill="#699bc9"/>
<circle cx="393.5" cy="1046.5" r="6.9" fill="#a5cee3"/>
<circle cx="424.8" cy="1040.2" r="6.9" fill="#a5cee3"/>
<circle cx="416.2" cy="1041.2" r="6.9" fill="#a5cee3"/>
<circle cx="407.5" cy="1054.4" r="6.9" fill="#6697c6"/>
<circle cx="342.5" cy="1063.1" r="6.9" fill="#badaea"/>
<circle cx="362.5" cy="1061.2" r="6.9" fill="#add3e6"/>
<circle cx="351.6" cy="1073.1" r="6.9" fill="#badaea"/>
<circle cx="388.5" cy="1068.5" r="6.9" fill="#a5cee3"/>
<circle cx="379.5" cy="1076.9" r="6.9" fill="#a5cee3"/>
<circle cx="422.5" cy="1071.2" r="6.9" fill="#a5cee3"/>
<circle cx="497.5" cy="937.2" r="6.9" fill="#537398"/>
<circle cx="487.5" cy="947.2" r="6.9" fill="#537398"/>
<circle cx="505.6" cy="959.4" r="6.9" fill="#537398"/>
<circle cx="473.5" cy="979.4" r="6.9" fill="#537398"/>
<circle cx="527.5" cy="987.2" r="6.9" fill="#537398"/>
<circle cx="510.4" cy="994.4" r="6.9" fill="#699bc9"/>
<circle cx="493.2" cy="999.4" r="6.9" fill="#5b83ad"/>
<circle cx="539.5" cy="1004.4" r="6.9" fill="#5b83ad"/>
<circle cx="507.5" cy="1018.5" r="6.9" fill="#5b83ad"/>
<circle cx="499.5" cy="1013.5" r="6.9" fill="#699bc9"/>
<circle cx="521.6" cy="1016.2" r="6.9" fill="#5b83ad"/>
<circle cx="531.6" cy="1029.4" r="6.9" fill="#699bc9"/>
<circle cx="602.2" cy="1010.0" r="6.9" fill="#537398"/>
<circle cx="596.6" cy="1020.6" r="6.9" fill="#6697c6"/>
<circle cx="626.6" cy="1012.3" r="6.9" fill="#608dbb"/>
<circle cx="632.5" cy="1033.3" r="6.9" fill="#608dbb"/>
<circle cx="642.6" cy="1032.3" r="6.9" fill="#699bc9"/>
<circle cx="649.4" cy="1048.4" r="6.9" fill="#699bc9"/>
<circle cx="634.5" cy="1065.4" r="6.9" fill="#699bc9"/>
<circle cx="630.4" cy="1065.1" r="6.9" fill="#6c9fcb"/>
<circle cx="649.4" cy="1071.2" r="6.9" fill="#6c9fcb"/>
<circle cx="837.5" cy="202.2" r="6.9" fill="#faf6f3"/>
<circle cx="838.5" cy="216.5" r="6.9" fill="#f7f8f9"/>
<circle cx="863.5" cy="197.0" r="6.9" fill="#f3f7f8"/>
<circle cx="874.0" cy="211.5" r="6.9" fill="#537398"/>
<circle cx="867.5" cy="209.5" r="6.9" fill="#fceee6"/>
<circle cx="884.7" cy="206.2" r="6.9" fill="#6392c3"/>
<circle cx="864.7" cy="221.5" r="6.9" fill="#f3f7f8"/>
<circle cx="847.0" cy="237.0" r="6.9" fill="#537398"/>
<circle cx="850.5" cy="228.0" r="6.9" fill="#537398"/>
<circle cx="834.3" cy="239.5" r="6.9" fill="#6392c3"/>
<circle cx="849.5" cy="245.5" r="6.9" fill="#6392c3"/>
<circle cx="876.5" cy="240.3" r="6.9" fill="#73a8cf"/>
<circle cx="838.5" cy="263.0" r="6.9" fill="#9ec9e1"/>
<circle cx="835.5" cy="270.5" r="6.9" fill="#9ec9e1"/>
<circle cx="830.0" cy="317.2" r="6.9" fill="#73a8cf"/>
<circle cx="830.0" cy="356.0" r="6.9" fill="#e5f0f6"/>
</g>
<rect x="570" y="640" width="1" height="1" fill="#506e90"/>
<g stroke="#000" stroke-width="1.15" fill="#fff" fill-opacity="0.88">
<circle cx="408.5" cy="677.3" r="10.9"/>
<circle cx="504.4" cy="527.4" r="10.9"/>
<circle cx="695.4" cy="483.5" r="10.9"/>
<circle cx="747.5" cy="577.0" r="10.9"/>
<circle cx="419.5" cy="992.5" r="10.9"/>
<circle cx="996.3" cy="559.3" r="10.9"/>
<circle cx="382.4" cy="458.5" r="10.9"/>
<circle cx="763.3" cy="888.2" r="10.9"/>
<circle cx="613.4" cy="303.4" r="10.9"/>
<circle cx="616.6" cy="1023.5" r="10.9"/>
<circle cx="922.5" cy="861.2" r="10.9"/>
<circle cx="626.5" cy="451.4" r="10.9"/>
<circle cx="535.5" cy="807.3" r="10.9"/>
</g>
<defs><radialGradient id="halo"><stop offset="0" stop-color="#e8ebf0"/><stop offset="0.7" stop-color="#e8ebf0"/><stop offset="1" stop-color="#e8ebf0" stop-opacity="0"/></radialGradient></defs>
<circle cx="408.5" cy="677.3" r="7.8" fill="url(#halo)"/>
<circle cx="504.4" cy="527.4" r="7.8" fill="url(#halo)"/>
<circle cx="695.4" cy="483.5" r="7.8" fill="url(#halo)"/>
<circle cx="747.5" cy="577.0" r="7.8" fill="url(#halo)"/>
<circle cx="419.5" cy="992.5" r="7.8" fill="url(#halo)"/>
<circle cx="996.3" cy="559.3" r="7.8" fill="url(#halo)"/>
<circle cx="382.4" cy="458.5" r="7.8" fill="url(#halo)"/>
<circle cx="763.3" cy="888.2" r="7.8" fill="url(#halo)"/>
<circle cx="613.4" cy="303.4" r="7.8" fill="url(#halo)"/>
<circle cx="616.6" cy="1023.5" r="7.8" fill="url(#halo)"/>
<circle cx="922.5" cy="861.2" r="7.8" fill="url(#halo)"/>
<circle cx="626.5" cy="451.4" r="7.8" fill="url(#halo)"/>
<circle cx="535.5" cy="807.3" r="7.8" fill="url(#halo)"/>
<g font-size="15.5" font-weight="bold" text-anchor="middle" fill="#000" text-rendering="geometricPrecision">
<text transform="translate(408.50 682.70) scale(0.94 1)">1</text>
<text transform="translate(504.40 532.80) scale(0.94 1)">2</text>
<text transform="translate(695.40 488.90) scale(0.94 1)">3</text>
<text transform="translate(747.50 582.40) scale(0.94 1)">4</text>
<text transform="translate(419.50 997.90) scale(0.94 1)">5</text>
<text transform="translate(996.30 564.70) scale(0.94 1)">6</text>
<text transform="translate(382.45 463.90) scale(0.94 1)">7</text>
<text transform="translate(763.30 893.60) scale(0.94 1)">8</text>
<text transform="translate(613.40 308.80) scale(0.94 1)">9</text>
<text transform="translate(616.60 1028.90) scale(0.94 1)">10</text>
<text transform="translate(922.50 866.60) scale(0.94 1)">11</text>
<text transform="translate(626.50 456.80) scale(0.94 1)">12</text>
<text transform="translate(535.50 812.70) scale(0.94 1)">13</text>
</g>
<defs><linearGradient id="lg" x1="850" x2="1150.5" y1="0" y2="0" gradientUnits="userSpaceOnUse">
<stop offset="0.0000" stop-color="#506e90"/>
<stop offset="0.0908" stop-color="#6494c5"/>
<stop offset="0.2143" stop-color="#7bb3d5"/>
<stop offset="0.3358" stop-color="#b3d6e8"/>
<stop offset="0.4240" stop-color="#dfedf4"/>
<stop offset="0.5474" stop-color="#f9f9f9"/>
<stop offset="0.6676" stop-color="#fee6d8"/>
<stop offset="0.7567" stop-color="#f7c0a8"/>
<stop offset="0.8805" stop-color="#e29082"/>
<stop offset="1.0000" stop-color="#c95d6b"/>
</linearGradient></defs>
<rect x="850" y="1134" width="300.5" height="15" fill="url(#lg)"/>
<g stroke="#000" stroke-width="1.1">
<line x1="850.0" x2="850.0" y1="1134" y2="1149"/>
<line x1="877.3" x2="877.3" y1="1134" y2="1149"/>
<line x1="914.4" x2="914.4" y1="1134" y2="1149"/>
<line x1="950.9" x2="950.9" y1="1134" y2="1149"/>
<line x1="977.4" x2="977.4" y1="1134" y2="1149"/>
<line x1="1014.5" x2="1014.5" y1="1134" y2="1149"/>
<line x1="1050.6" x2="1050.6" y1="1134" y2="1149"/>
<line x1="1077.4" x2="1077.4" y1="1134" y2="1149"/>
<line x1="1114.6" x2="1114.6" y1="1134" y2="1149"/>
<line x1="1150.5" x2="1150.5" y1="1134" y2="1149"/>
</g>
<text x="1030.8" y="1127" font-size="13" text-anchor="middle" fill="#000">Variance, Z-scaled</text>
<g font-size="11" text-anchor="middle" fill="#000">
<text x="850.0" y="1163">0.0</text>
<text x="877.3" y="1163">0.3</text>
<text x="914.4" y="1163">0.7</text>
<text x="950.9" y="1163">1.1</text>
<text x="977.4" y="1163">1.4</text>
<text x="1014.5" y="1163">1.8</text>
<text x="1050.6" y="1163">2.2</text>
<text x="1077.4" y="1163">2.5</text>
<text x="1114.6" y="1163">2.9</text>
<text x="1150.5" y="1163">3.3</text>
</g>
</svg></body></html>
